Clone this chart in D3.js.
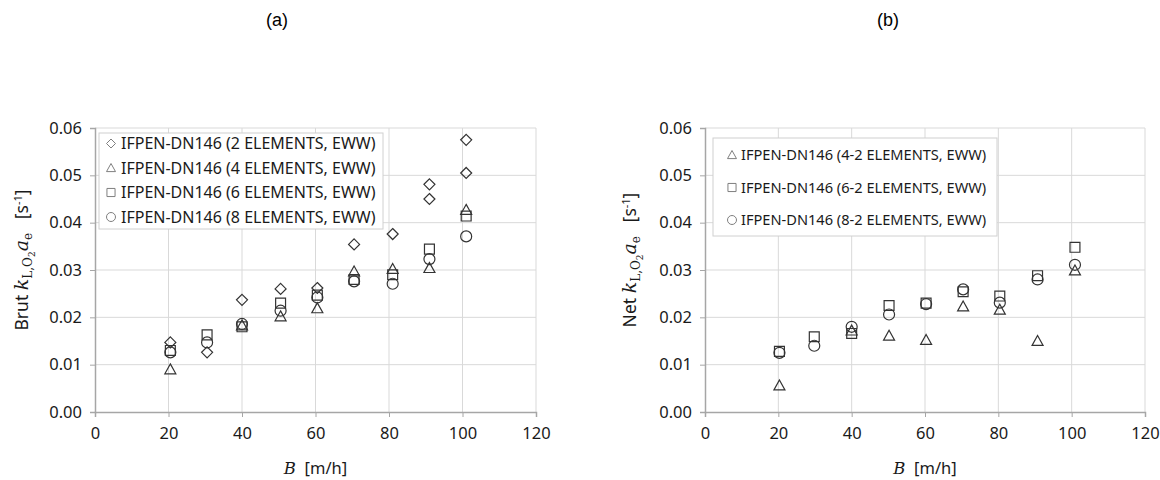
<!DOCTYPE html>
<html><head><meta charset="utf-8">
<script src="https://cdn.jsdelivr.net/npm/d3@7"></script>
<style>body{margin:0;background:#fff}</style>
</head><body>
<svg id="c" width="1160" height="480"></svg>
<script>
// ---- data ----
const xTicks = [0, 20, 40, 60, 80, 100, 120];
const yTicks = [0, 0.01, 0.02, 0.03, 0.04, 0.05, 0.06];

// panel (a) Brut
const brut2X = [20.5, 30.5, 40, 50.5, 60.5, 70.5, 81, 91, 91, 101, 101];
const brut2Y = [0.0147, 0.0126, 0.0237, 0.0260, 0.0262, 0.0354, 0.0376, 0.0481, 0.0450, 0.0575, 0.0505];
const brut4X = [20.5, 40, 50.5, 60.5, 70.5, 81, 91, 101];
const brut4Y = [0.0090, 0.0183, 0.0202, 0.0219, 0.0297, 0.0302, 0.0304, 0.0427];
const brut6X = [20.5, 30.5, 40, 50.5, 60.5, 70.5, 81, 91, 101];
const brut6Y = [0.0130, 0.0163, 0.0180, 0.0230, 0.0247, 0.0280, 0.0290, 0.0344, 0.0414];
const brut8X = [20.5, 30.5, 40, 50.5, 60.5, 70.5, 81, 91, 101];
const brut8Y = [0.0126, 0.0147, 0.0186, 0.0214, 0.0242, 0.0276, 0.0271, 0.0323, 0.0371];

// panel (b) Net
const net42X = [20.3, 40, 50.2, 60.3, 70.4, 80.4, 90.7, 100.9];
const net42Y = [0.0056, 0.0172, 0.0161, 0.0152, 0.0223, 0.0216, 0.0150, 0.0299];
const net62X = [20.3, 29.8, 40, 50.2, 60.3, 70.4, 80.4, 90.7, 100.9];
const net62Y = [0.0128, 0.0159, 0.0166, 0.0225, 0.0230, 0.0254, 0.0245, 0.0288, 0.0348];
const net82X = [20.3, 29.8, 40, 50.2, 60.3, 70.4, 80.4, 90.7, 100.9];
const net82Y = [0.0125, 0.0140, 0.0180, 0.0206, 0.0228, 0.0259, 0.0231, 0.0280, 0.0311];

const brutNames = ["IFPEN-DN146 (2 ELEMENTS, EWW)", "IFPEN-DN146 (4 ELEMENTS, EWW)",
                   "IFPEN-DN146 (6 ELEMENTS, EWW)", "IFPEN-DN146 (8 ELEMENTS, EWW)"];
const netNames = ["IFPEN-DN146 (4-2 ELEMENTS, EWW)", "IFPEN-DN146 (6-2 ELEMENTS, EWW)",
                  "IFPEN-DN146 (8-2 ELEMENTS, EWW)"];

// ---- drawing ----
const svg = d3.select("#c");
const FONT = "'Liberation Sans Narrow', 'Noto Sans', sans-serif";
const TFONT = "'Liberation Sans', Arial, sans-serif";
const MFONT = "'DejaVu Serif', serif";

function shapePath(kind, r) {
  const p = d3.path();
  if (kind === "diamond") { p.moveTo(0, -r); p.lineTo(r, 0); p.lineTo(0, r); p.lineTo(-r, 0); p.closePath(); }
  else if (kind === "triangle") { p.moveTo(0, -r); p.lineTo(r, r * 0.8); p.lineTo(-r, r * 0.8); p.closePath(); }
  else if (kind === "square") { p.rect(-r * 0.9, -r * 0.9, r * 1.8, r * 1.8); }
  else { p.arc(0, 0, r, 0, 2 * Math.PI); p.closePath(); }
  return p.toString();
}

function panel(opt) {
  const x = d3.scaleLinear().domain([0, 120]).range([opt.x0, opt.x1]);
  const y = d3.scaleLinear().domain([0, 0.06]).range([412, 128]);
  const g = svg.append("g");
  // grid
  g.append("g").selectAll("line").data(xTicks.slice(1)).join("line")
    .attr("x1", d => x(d)).attr("x2", d => x(d)).attr("y1", y(0)).attr("y2", y(0.06))
    .attr("stroke", "#d9d9d9").attr("stroke-width", 1);
  g.append("g").selectAll("line").data(yTicks.slice(1)).join("line")
    .attr("x1", x(0)).attr("x2", x(120)).attr("y1", d => y(d)).attr("y2", d => y(d))
    .attr("stroke", "#d9d9d9").attr("stroke-width", 1);
  // axes
  const ax = g.append("g").attr("transform", `translate(0,${y(0)})`)
    .call(d3.axisBottom(x).tickValues(xTicks).tickSize(5).tickPadding(10).tickFormat(d3.format("d")));
  const ay = g.append("g").attr("transform", `translate(${x(0)},0)`)
    .call(d3.axisLeft(y).tickValues(yTicks).tickSize(5).tickPadding(8).tickFormat(d3.format(".2f")));
  [ax, ay].forEach(a => {
    a.select(".domain").attr("stroke", "#a6a6a6").attr("stroke-width", 1.5);
    a.selectAll(".tick line").attr("stroke", "#a6a6a6");
    a.selectAll(".tick text").attr("font-family", FONT).attr("font-size", 16.5).attr("fill", "#1a1a1a");
  });
  // points
  opt.series.forEach(s => {
    g.append("g").selectAll("path").data(d3.zip(s.xs, s.ys)).join("path")
      .attr("transform", d => `translate(${x(d[0])},${y(d[1])})`)
      .attr("d", shapePath(s.kind, 5.5))
      .attr("fill", "none").attr("stroke", "#333").attr("stroke-width", 1.2);
  });
  // legend
  const L = opt.legend;
  g.append("rect").attr("x", L.x).attr("y", L.y).attr("width", L.w).attr("height", L.h)
    .attr("fill", "#fff").attr("stroke", "#d0d0d0");
  opt.series.forEach((s, i) => {
    const cy = L.row0 + i * L.dy;
    g.append("path").attr("transform", `translate(${L.mx},${cy})`).attr("d", shapePath(s.kind, 4.5))
      .attr("fill", "none").attr("stroke", "#7f7f7f").attr("stroke-width", 1);
    g.append("text").attr("x", L.tx).attr("y", cy).attr("dy", "0.35em")
      .attr("font-family", FONT).attr("font-size", L.fs).attr("fill", "#1a1a1a").text(opt.names[i]);
  });
  // x label
  const xl = g.append("text").attr("x", (opt.x0 + opt.x1) / 2).attr("y", 474).attr("text-anchor", "middle")
    .attr("font-family", FONT).attr("font-size", 16.5).attr("fill", "#1a1a1a");
  xl.append("tspan").attr("font-family", MFONT).attr("font-style", "italic").text("B");
  xl.append("tspan").text("\u00a0\u00a0[m/h]");
  // y label
  const yl = g.append("text").attr("transform", `translate(${opt.ylx},260) rotate(-90)`)
    .attr("text-anchor", "middle").attr("font-family", FONT).attr("font-size", 17.5).attr("fill", "#1a1a1a");
  yl.append("tspan").text(opt.ylab + "\u00a0");
  yl.append("tspan").attr("font-family", MFONT).attr("font-style", "italic").attr("font-size", 19).text("k");
  yl.append("tspan").attr("font-size", 12).attr("dy", 4).attr("font-family", MFONT).text("L,O");
  yl.append("tspan").attr("font-size", 9).attr("dy", 3).attr("font-family", MFONT).text("2");
  yl.append("tspan").attr("dy", -7).attr("font-family", MFONT).attr("font-style", "italic").attr("font-size", 19).text("a");
  yl.append("tspan").attr("font-size", 12).attr("dy", 4).attr("font-family", MFONT).text("e");
  yl.append("tspan").attr("dy", -4).text("\u00a0\u00a0\u00a0[s");
  yl.append("tspan").attr("font-size", 11).attr("dy", -6).text("-1");
  yl.append("tspan").attr("dy", 6).text("]");
  // title
  svg.append("text").attr("x", opt.tx).attr("y", 26).attr("text-anchor", "middle")
    .attr("font-family", TFONT).attr("font-size", 18).attr("fill", "#000").text(opt.title);
}

panel({
  x0: 95, x1: 536, ylx: 28, ylab: "Brut", title: "(a)", tx: 277, names: brutNames,
  series: [
    {kind: "diamond", xs: brut2X, ys: brut2Y},
    {kind: "triangle", xs: brut4X, ys: brut4Y},
    {kind: "square", xs: brut6X, ys: brut6Y},
    {kind: "circle", xs: brut8X, ys: brut8Y}
  ],
  legend: {x: 99, y: 133, w: 284, h: 96, row0: 143.5, dy: 24.5, mx: 111, tx: 121, fs: 16}
});
panel({
  x0: 705, x1: 1145, ylx: 636, ylab: "Net", title: "(b)", tx: 888, names: netNames,
  series: [
    {kind: "triangle", xs: net42X, ys: net42Y},
    {kind: "square", xs: net62X, ys: net62Y},
    {kind: "circle", xs: net82X, ys: net82Y}
  ],
  legend: {x: 713, y: 138, w: 284, h: 98, row0: 155, dy: 32.5, mx: 732, tx: 741, fs: 14.6}
});
</script>
</body></html>
